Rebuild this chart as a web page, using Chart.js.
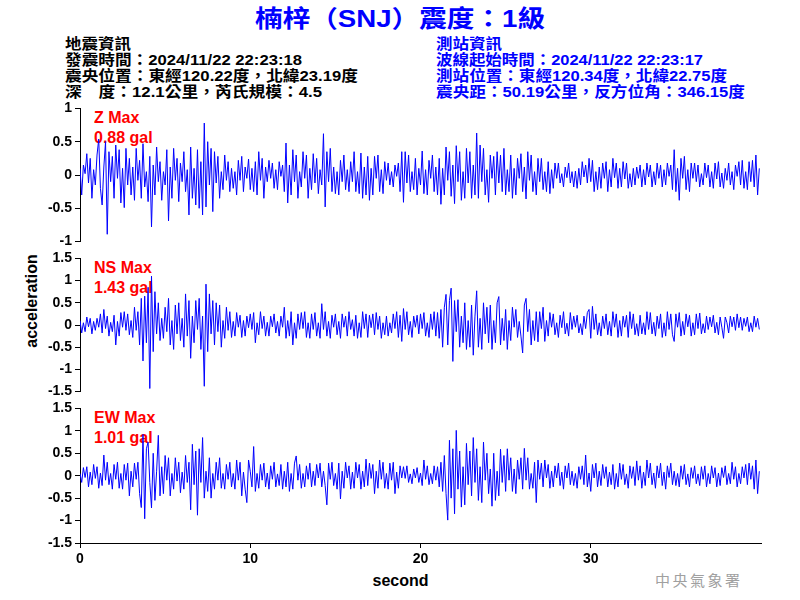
<!DOCTYPE html>
<html>
<head>
<meta charset="utf-8">
<script src="https://cdn.jsdelivr.net/npm/chart.js@4"></script>
<style>
  html, body { margin: 0; padding: 0; background: #fff; }
  #wrap { position: relative; width: 800px; height: 600px; overflow: hidden; background: #fff; }
  .txt { position: absolute; white-space: nowrap; font-family: "Liberation Sans", Arial, "Noto Sans CJK TC", sans-serif; }
  .fit { display: inline-block; transform-origin: 0 50%; }
  #title { left: 0; top: 5px; width: 800px; text-align: center; font-size: 24px; line-height: 28px; font-weight: bold; color: #0000ff; }
  #title span { transform-origin: 50% 50%; }
  .hdr { font-size: 15px; line-height: 16px; font-weight: bold; }
  .blk { color: #000; left: 65px; }
  .blu { color: #0000ff; left: 436px; }
  .maxlab { left: 94px; font-size: 16px; line-height: 20px; font-weight: bold; color: #ff0000; z-index: 0; }
  canvas { position: absolute; left: 0; z-index: 1; }
  #ytitle { left: -68px; top: 291px; width: 200px; height: 20px; text-align: center; font-size: 16px; line-height: 20px; font-weight: bold; color: #000; transform: rotate(-90deg); transform-origin: 50% 50%; }
  #xtitle { left: 300px; top: 571px; width: 201px; text-align: center; font-size: 16px; line-height: 20px; font-weight: bold; color: #000; }
  #mark { left: 655px; top: 571px; font-family: "Noto Sans CJK TC", sans-serif; font-size: 15px; line-height: 18px; letter-spacing: 2.5px; color: #a0a0a0; }
</style>
</head>
<body>
<div id="wrap">
  <div id="title" class="txt"><span class="fit" data-w="290">楠梓（SNJ）震度：1級</span></div>

  <div class="txt hdr blk" style="top:36px"><span class="fit" data-w="66">地震資訊</span></div>
  <div class="txt hdr blk" style="top:52px"><span class="fit" data-w="237">發震時間：2024/11/22 22:23:18</span></div>
  <div class="txt hdr blk" style="top:68px"><span class="fit" data-w="293">震央位置：東經120.22度，北緯23.19度</span></div>
  <div class="txt hdr blk" style="top:84px"><span class="fit" data-w="257">深　度：12.1公里，芮氏規模：4.5</span></div>

  <div class="txt hdr blu" style="top:36px"><span class="fit" data-w="66">測站資訊</span></div>
  <div class="txt hdr blu" style="top:52px"><span class="fit" data-w="267">波線起始時間：2024/11/22 22:23:17</span></div>
  <div class="txt hdr blu" style="top:68px"><span class="fit" data-w="291">測站位置：東經120.34度，北緯22.75度</span></div>
  <div class="txt hdr blu" style="top:84px"><span class="fit" data-w="309">震央距：50.19公里，反方位角：346.15度</span></div>

  <div class="txt maxlab" style="top:108px">Z Max<br>0.88 gal</div>
  <div class="txt maxlab" style="top:258px">NS Max<br>1.43 gal</div>
  <div class="txt maxlab" style="top:408px">EW Max<br>1.01 gal</div>

  <canvas id="cZ" width="800" height="156" style="top:97px"></canvas>
  <canvas id="cNS" width="800" height="156" style="top:247px"></canvas>
  <canvas id="cEW" width="800" height="203" style="top:397px"></canvas>

  <div id="ytitle" class="txt">acceleration</div>
  <div id="xtitle" class="txt">second</div>
  <div id="mark" class="txt">中央氣象署</div>
</div>

<script>
// ---- data (gal), one sample every SAMPLE_DT seconds ----
const SAMPLE_DT = 0.1;
const xTicks = [0, 10, 20, 30];
const yTicksZ = [-1, -0.5, 0, 0.5, 1];
const yTicksH = [-1.5, -1, -0.5, 0, 0.5, 1, 1.5];

const zValues = [
  0.10,-0.30,0.15,0.02,0.32,-0.12,0.25,-0.35,0.08,-0.15,
  0.30,0.54,-0.20,-0.45,0.12,0.50,-0.89,0.35,-0.10,0.28,
  -0.35,0.45,-0.05,0.38,-0.42,0.10,-0.49,0.40,-0.15,0.25,
  -0.30,0.12,-0.38,0.40,-0.08,0.22,-0.35,0.47,-0.18,0.05,
  -0.40,0.28,-0.78,0.15,-0.30,0.42,-0.10,0.20,-0.38,0.05,
  -0.15,0.38,-0.69,0.12,-0.35,0.40,-0.08,0.25,-0.40,0.18,
  -0.10,0.35,-0.25,0.08,-0.60,0.42,-0.35,0.10,-0.45,0.38,
  -0.50,0.20,-0.60,0.78,-0.48,0.50,-0.15,0.40,-0.55,0.35,
  -0.12,0.28,-0.35,0.05,-0.22,0.30,-0.08,0.20,-0.25,0.10,
  -0.20,0.05,-0.30,0.22,-0.08,0.28,-0.25,0.12,-0.05,0.24,
  -0.22,0.10,-0.25,0.20,-0.30,0.35,-0.08,0.25,-0.35,0.12,
  -0.10,0.22,-0.05,0.18,-0.20,0.08,-0.22,0.20,-0.02,0.15,
  -0.25,0.48,-0.42,0.15,-0.30,0.38,-0.10,0.30,-0.35,0.05,
  -0.18,0.35,-0.05,0.30,-0.35,0.10,-0.22,0.32,-0.12,0.25,
  -0.28,0.08,-0.15,0.62,-0.48,0.35,-0.10,0.40,-0.25,0.12,
  -0.28,0.05,-0.30,0.22,-0.10,0.30,-0.22,0.08,-0.25,0.20,
  -0.10,0.35,-0.25,0.05,-0.28,0.33,-0.35,0.12,-0.30,0.28,
  -0.38,0.10,-0.30,0.28,-0.05,0.30,-0.25,0.08,-0.28,0.20,
  -0.08,0.18,-0.15,0.05,-0.18,0.15,-0.02,0.18,-0.25,0.35,
  -0.41,0.35,-0.12,0.30,-0.25,0.05,-0.22,0.25,-0.30,0.10,
  -0.15,0.36,-0.28,0.08,-0.30,0.22,-0.05,0.30,-0.25,0.12,
  -0.30,0.25,-0.44,0.10,-0.30,0.42,-0.08,0.35,-0.32,0.15,
  -0.43,0.44,-0.10,0.35,-0.38,0.05,-0.35,0.40,-0.12,0.35,
  -0.35,0.15,-0.30,0.63,-0.35,0.45,-0.10,0.40,-0.30,0.08,
  -0.41,0.30,-0.05,0.28,-0.30,0.35,-0.12,0.30,-0.25,0.40,
  -0.30,0.08,-0.25,0.30,-0.35,0.10,-0.30,0.25,-0.05,0.32,
  -0.25,0.12,-0.36,0.35,-0.08,0.30,-0.25,0.05,-0.30,0.25,
  -0.10,0.25,-0.22,0.05,-0.25,0.20,-0.28,0.08,-0.20,0.18,
  -0.05,0.18,-0.12,0.02,-0.18,0.12,-0.04,0.18,-0.12,0.05,
  -0.18,0.06,-0.20,0.10,-0.15,0.20,-0.03,0.15,-0.12,0.25,
  -0.10,0.22,-0.25,0.05,-0.22,0.12,-0.20,0.18,-0.05,0.20,
  -0.25,0.08,-0.18,0.25,-0.04,0.18,-0.20,0.10,-0.18,0.20,
  -0.06,0.18,-0.20,0.02,-0.18,0.10,-0.15,0.12,-0.05,0.15,
  -0.18,0.08,-0.15,0.18,-0.03,0.15,-0.18,0.05,-0.15,0.18,
  -0.05,0.15,-0.18,0.08,-0.15,0.18,-0.02,0.15,-0.22,0.38,
  -0.25,0.10,-0.38,0.25,-0.05,0.28,-0.22,0.08,-0.25,0.18,
  -0.05,0.18,-0.10,0.15,-0.18,0.02,-0.15,0.18,-0.04,0.15,
  -0.18,0.05,-0.20,0.18,-0.06,0.20,-0.18,0.03,-0.20,0.10,
  -0.08,0.18,-0.15,0.05,-0.22,0.15,-0.02,0.20,-0.15,0.22,
  -0.20,0.05,-0.22,0.20,-0.10,0.22,-0.18,0.30,-0.30,0.10
];

const nsValues = [
  0.10,-0.18,0.05,-0.15,0.18,-0.04,0.15,-0.20,0.08,-0.12,
  0.15,-0.05,0.25,-0.18,0.35,-0.08,0.20,-0.25,0.06,-0.15,
  0.22,-0.45,0.08,-0.25,0.28,-0.05,0.30,-0.12,0.25,-0.22,
  0.10,-0.28,0.40,-0.12,0.30,-0.45,0.60,-0.81,0.65,-0.40,
  0.85,-1.43,1.10,-0.60,0.75,-0.20,0.50,-0.35,0.15,-0.30,
  0.40,-0.15,0.60,-0.45,0.10,-0.55,0.45,-0.20,0.50,-0.35,
  0.15,-0.50,0.70,-0.25,0.55,-0.75,0.20,-0.40,0.55,-0.10,
  0.60,-0.55,0.20,-1.38,0.92,-0.60,0.70,-0.20,0.55,-0.45,
  0.50,-0.15,0.45,-0.50,0.10,-0.30,0.40,-0.12,0.30,-0.28,
  0.08,-0.25,0.28,-0.05,0.22,-0.28,0.10,-0.25,0.20,-0.06,
  0.25,-0.10,0.28,-0.40,0.05,-0.22,0.30,-0.08,0.20,-0.25,
  0.06,-0.25,0.20,-0.04,0.25,-0.18,0.08,-0.25,0.20,-0.05,
  0.40,-0.30,0.10,-0.25,0.30,-0.45,0.05,-0.30,0.25,-0.10,
  0.28,-0.08,0.30,-0.28,0.05,-0.30,0.25,-0.10,0.28,-0.25,
  0.05,-0.30,0.48,-0.10,0.30,-0.25,0.08,-0.30,0.22,-0.05,
  0.25,-0.22,0.08,-0.30,0.25,-0.05,0.20,-0.25,0.30,-0.10,
  0.12,-0.25,0.22,-0.30,0.05,-0.28,0.30,-0.08,0.25,-0.28,
  0.22,-0.06,0.25,-0.22,0.28,-0.10,0.20,-0.30,0.05,-0.22,
  0.20,-0.25,0.05,-0.18,0.25,-0.08,0.30,-0.28,0.22,-0.37,
  0.37,-0.10,0.30,-0.22,0.08,-0.28,0.20,-0.05,0.22,-0.20,
  0.25,-0.08,0.28,-0.25,0.05,-0.28,0.25,-0.10,0.30,-0.25,
  0.28,-0.30,0.35,-0.50,0.40,0.69,-0.45,0.55,0.83,-0.82,
  0.55,-0.15,0.57,-0.50,0.20,-0.40,0.50,-0.55,0.10,-0.50,
  0.45,-0.68,0.20,0.77,-0.50,0.15,-0.55,0.50,-0.20,0.40,
  -0.40,0.45,-0.55,0.10,-0.40,0.50,0.64,-0.45,0.15,-0.35,
  0.35,-0.55,0.10,-0.35,0.40,-0.05,0.35,-0.28,0.08,-0.25,
  -0.63,0.45,0.60,-0.15,0.35,-0.45,0.10,-0.35,0.30,-0.38,
  0.30,-0.08,0.40,-0.37,0.10,-0.25,0.28,-0.05,0.25,-0.22,
  0.05,-0.28,0.22,-0.06,0.30,-0.20,0.04,-0.25,0.28,-0.10,
  0.20,-0.05,0.22,-0.18,0.03,-0.22,0.20,-0.08,0.28,0.35,
  -0.30,0.42,-0.10,0.25,-0.22,0.05,-0.25,0.20,-0.08,0.25,
  -0.22,0.08,-0.25,0.30,-0.05,0.25,-0.28,0.10,-0.25,0.20,
  -0.05,0.22,-0.28,0.30,-0.08,0.25,-0.22,0.03,-0.25,0.22,
  -0.20,0.05,-0.22,0.30,-0.10,0.28,-0.20,0.06,-0.25,0.20,
  -0.08,0.25,-0.28,0.05,-0.25,0.30,-0.10,0.25,-0.22,-0.37,
  0.25,-0.05,0.28,-0.25,0.08,-0.22,0.25,-0.04,0.22,-0.25,
  0.05,-0.22,0.25,-0.08,0.27,-0.20,0.03,-0.18,0.20,-0.10,
  0.18,-0.04,0.22,-0.18,0.06,-0.22,0.18,-0.05,-0.30,0.18,
  0.05,-0.18,0.20,-0.04,0.18,-0.12,0.25,-0.06,0.18,-0.12,
  0.15,-0.03,0.18,-0.15,0.05,-0.15,0.20,-0.05,0.15,-0.10
];

const ewValues = [
  0.05,-0.15,0.18,-0.04,0.20,-0.25,0.08,-0.20,0.25,-0.06,
  0.20,-0.28,0.06,-0.22,0.46,-0.10,0.30,-0.20,0.05,-0.30,
  0.25,-0.08,0.30,-0.28,0.05,-0.30,0.25,-0.10,0.28,-0.45,
  0.10,-0.25,0.28,-0.08,0.30,-0.40,-0.71,0.92,-0.96,0.60,
  0.75,-0.15,-0.72,0.50,-0.55,0.10,0.90,-0.45,0.20,-0.40,
  0.45,-0.10,0.40,-0.45,0.05,-0.30,0.40,-0.12,0.30,-0.38,
  0.08,-0.30,0.45,-0.15,0.30,-0.76,0.70,-0.20,0.55,-0.88,
  0.60,-0.15,0.85,-0.50,0.10,-0.35,0.40,-0.50,0.05,-0.30,
  0.30,-0.10,0.40,-0.28,0.05,-0.30,0.25,-0.08,0.30,-0.25,
  0.05,-0.30,0.35,-0.10,0.30,-0.45,0.08,-0.30,-0.60,0.35,
  0.10,-0.25,0.65,-0.35,0.05,-0.28,0.25,-0.10,0.28,-0.25,
  0.06,-0.30,0.22,-0.08,0.30,-0.25,0.04,-0.22,0.25,-0.30,
  0.10,-0.25,0.30,-0.35,0.05,-0.30,0.28,0.44,-0.10,0.25,
  -0.28,0.05,-0.25,0.22,-0.08,0.28,-0.25,0.10,-0.22,0.25,
  -0.05,0.28,-0.25,0.10,-0.22,-0.65,0.28,-0.08,0.30,-0.22,
  0.05,-0.30,0.28,-0.52,0.10,-0.28,0.30,-0.05,0.22,-0.30,
  0.08,-0.28,0.30,-0.05,0.25,-0.30,0.10,-0.25,0.37,-0.22,
  0.28,-0.06,0.25,-0.40,0.10,-0.28,0.35,-0.08,0.30,-0.28,
  0.05,-0.30,0.28,-0.10,0.30,-0.40,0.08,-0.28,0.22,-0.05,
  0.20,-0.06,0.22,-0.15,0.04,-0.18,0.15,-0.05,0.18,-0.15,
  0.06,-0.22,0.35,-0.08,0.22,-0.20,0.05,-0.18,0.22,-0.10,
  0.20,-0.25,0.30,-0.35,0.45,-0.40,-0.99,0.79,-0.50,0.60,
  -0.85,1.01,-0.30,0.55,-0.70,0.20,-0.65,0.72,-0.20,0.55,
  -0.45,0.85,-0.15,0.60,-0.55,0.20,-0.60,0.75,-0.10,0.50,
  -0.40,0.15,-0.68,0.50,-0.55,0.10,-0.45,0.59,-0.15,0.45,
  -0.35,0.60,-0.10,0.40,-0.35,0.15,-0.40,0.35,-0.08,0.40,
  -0.30,0.61,-0.10,0.40,-0.30,0.05,-0.28,0.30,-0.60,0.35,
  -0.08,0.28,-0.25,0.35,-0.05,0.25,-0.28,0.10,-0.25,0.22,
  -0.05,0.28,-0.22,0.08,-0.30,0.22,-0.05,0.28,-0.20,0.10,
  -0.22,0.05,-0.28,0.20,-0.08,0.22,-0.20,0.46,-0.25,0.06,
  -0.35,0.25,-0.05,0.28,-0.25,0.10,-0.22,0.25,-0.06,0.20,
  -0.25,0.08,-0.20,0.25,-0.30,0.05,-0.25,0.28,-0.08,0.25,
  -0.20,0.04,-0.28,0.22,-0.06,0.20,-0.22,0.33,-0.10,0.22,
  -0.28,0.08,-0.22,0.35,-0.05,0.28,-0.20,0.06,-0.28,0.22,
  -0.05,0.28,-0.22,0.08,-0.30,0.22,-0.04,0.28,-0.20,0.10,
  -0.22,0.05,-0.25,0.22,-0.08,0.25,-0.20,0.04,-0.25,0.18,
  -0.06,0.22,-0.18,0.04,-0.22,0.20,-0.08,0.22,-0.25,0.05,
  -0.18,0.22,-0.05,0.18,-0.25,0.06,-0.22,0.18,-0.04,0.22,
  -0.20,0.05,-0.18,0.30,-0.08,0.20,-0.25,0.05,-0.18,0.20,
  -0.05,0.25,-0.20,0.28,-0.08,0.22,-0.30,0.35,-0.40,0.10
];

// ---- drawing ----
const tickFont = { family: '"Liberation Sans", Arial, sans-serif', size: 14, weight: 'bold' };

function toPoints(values) {
  return values.map((v, i) => ({ x: i * SAMPLE_DT, y: v }));
}

function makePanel(id, values, yTicks, showX) {
  const yMin = yTicks[0], yMax = yTicks[yTicks.length - 1];
  const xScale = {
    type: 'linear',
    min: 0,
    max: 40,
    display: showX,
    afterBuildTicks: s => { s.ticks = xTicks.map(v => ({ value: v })); },
    ticks: { font: tickFont, color: '#000', padding: 3, maxRotation: 0, autoSkip: false },
    grid: { drawOnChartArea: false, drawTicks: true, tickLength: 5, color: '#000' },
    border: { display: true, color: '#000', width: 1 }
  };
  if (showX) xScale.afterFit = s => { s.height = 57; };
  return new Chart(document.getElementById(id), {
    type: 'line',
    data: {
      datasets: [{
        data: toPoints(values),
        borderColor: '#0000ff',
        borderWidth: 1,
        pointRadius: 0,
        tension: 0,
        fill: false
      }]
    },
    options: {
      responsive: false,
      animation: false,
      devicePixelRatio: 1,
      events: [],
      layout: { padding: { top: 10, bottom: showX ? 0 : 10, left: 0, right: 39 } },
      plugins: { legend: { display: false }, tooltip: { enabled: false }, title: { display: false } },
      scales: {
        x: xScale,
        y: {
          min: yMin,
          max: yMax,
          afterBuildTicks: s => { s.ticks = yTicks.map(v => ({ value: v })); },
          afterFit: s => { s.width = 80; },
          ticks: { font: tickFont, color: '#000', padding: 3, callback: v => String(v) },
          grid: { drawOnChartArea: false, drawTicks: true, tickLength: 5, color: '#000' },
          border: { display: true, color: '#000', width: 1 }
        }
      }
    }
  });
}

makePanel('cZ', zValues, yTicksZ, false);
makePanel('cNS', nsValues, yTicksH, false);
makePanel('cEW', ewValues, yTicksH, true);

function fitTexts() {
  document.querySelectorAll('.fit').forEach(el => {
    el.style.transform = 'none';
    const w = el.getBoundingClientRect().width;
    const target = +el.dataset.w;
    if (w > 0) el.style.transform = 'scaleX(' + (target / w) + ')';
  });
}
fitTexts();
if (document.fonts && document.fonts.ready) document.fonts.ready.then(fitTexts);
</script>
</body>
</html>
